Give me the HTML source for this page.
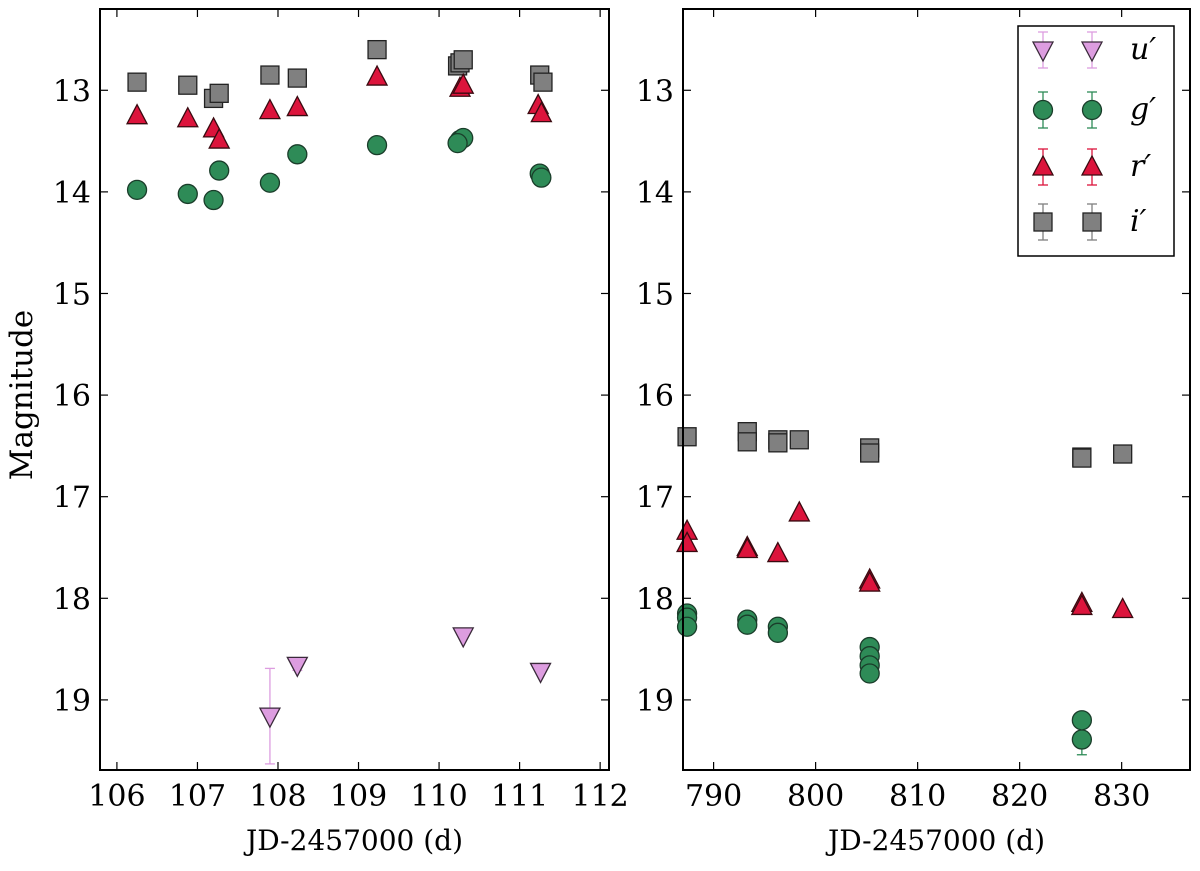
<!DOCTYPE html>
<html><head><meta charset="utf-8"><style>
html,body{margin:0;padding:0;background:#fff}
svg text{font-family:"DejaVu Serif","Liberation Serif",serif;fill:#000}
</style></head><body>
<svg id="chart" width="1200" height="866" viewBox="0 0 1200 866" xmlns="http://www.w3.org/2000/svg"></svg>
<script>
// ---- data ----
const leftXTicks=[106,107,108,109,110,111,112];
const rightXTicks=[790,800,810,820,830];
const yTicks=[13,14,15,16,17,18,19];
// left panel
const L_u_x=[107.9,108.24,110.3,111.26];
const L_u_y=[19.16,18.66,18.37,18.72];
const L_u_e=[0.47,0.05,0.03,0.03];
const L_g_x=[106.25,106.88,107.2,107.27,107.9,108.24,109.23,110.26,110.3,110.23,111.25,111.27];
const L_g_y=[13.98,14.02,14.08,13.79,13.91,13.63,13.54,13.49,13.47,13.52,13.82,13.86];
const L_r_x=[106.25,106.88,107.2,107.27,107.9,108.24,109.23,110.26,110.3,111.23,111.27];
const L_r_y=[13.25,13.28,13.38,13.49,13.2,13.17,12.87,12.98,12.95,13.15,13.23];
const L_i_x=[106.25,106.88,107.2,107.27,107.9,108.24,109.23,110.23,110.26,110.3,111.25,111.29];
const L_i_y=[12.92,12.95,13.08,13.03,12.85,12.88,12.6,12.76,12.73,12.7,12.85,12.92];
// right panel
const R_g_x=[787.4,787.4,787.4,793.3,793.3,796.3,796.3,805.3,805.3,805.3,805.3,826.1,826.1];
const R_g_y=[18.15,18.19,18.28,18.21,18.26,18.28,18.34,18.48,18.57,18.66,18.74,19.2,19.39];
const R_g_e=[0.03,0.03,0.03,0.03,0.03,0.03,0.03,0.03,0.03,0.03,0.03,0.03,0.15];
const R_r_x=[787.4,787.4,793.3,793.3,796.3,798.4,805.3,805.3,826.1,826.1,830.1];
const R_r_y=[17.34,17.46,17.5,17.52,17.56,17.16,17.82,17.85,18.05,18.08,18.11];
const R_i_x=[787.4,793.3,793.3,796.3,796.3,798.4,805.3,805.3,826.1,826.1,830.1];
const R_i_y=[16.41,16.36,16.46,16.44,16.47,16.44,16.52,16.57,16.61,16.62,16.58];

const COL={u:'#dd9de0',g:'#2e8b57',r:'#dc143c',i:'#808080'};
const NS='http://www.w3.org/2000/svg';
const svg=document.getElementById('chart');
function mk(tag,attrs,parent){const e=document.createElementNS(NS,tag);for(const k in attrs)e.setAttribute(k,attrs[k]);(parent||svg).appendChild(e);return e;}

const Y0=12.2,Y1=19.69,PT=9,PB=770;
function yS(v){return PT+(v-Y0)/(Y1-Y0)*(PB-PT);}
const panels=[
 {name:'left',x0:100,x1:609,d0:105.79,d1:112.11,ticks:leftXTicks},
 {name:'right',x0:683,x1:1190,d0:787.0,d1:836.7,ticks:rightXTicks}
];
panels.forEach(p=>{p.xS=v=>p.x0+(v-p.d0)/(p.d1-p.d0)*(p.x1-p.x0);});

function marker(type,cx,cy,g){
  let e;
  if(type==='i'){e=mk('rect',{x:cx-9,y:cy-9,width:18,height:18,fill:COL.i,stroke:'#222','stroke-width':1.3},g);}
  else if(type==='g'){e=mk('circle',{cx:cx,cy:cy,r:9.5,fill:COL.g,stroke:'#1a3d2a','stroke-width':1.3},g);}
  else if(type==='r'){e=mk('polygon',{points:`${cx},${cy-11} ${cx-10},${cy+8} ${cx+10},${cy+8}`,fill:COL.r,stroke:'#3a0a10','stroke-width':1.3},g);}
  else {e=mk('polygon',{points:`${cx},${cy+11} ${cx-10},${cy-8} ${cx+10},${cy-8}`,fill:COL.u,stroke:'#3a2a3a','stroke-width':1.3},g);}
  return e;
}
function errbar(type,cx,y1,y2,g){
  mk('line',{x1:cx,y1:y1,x2:cx,y2:y2,stroke:COL[type],'stroke-width':1.3},g);
  mk('line',{x1:cx-5,y1:y1,x2:cx+5,y2:y1,stroke:COL[type],'stroke-width':1.3},g);
  mk('line',{x1:cx-5,y1:y2,x2:cx+5,y2:y2,stroke:COL[type],'stroke-width':1.3},g);
}
function series(p,type,xs,ys,es){
  const g=mk('g',{});
  
  
  xs.forEach((x,k)=>{
    const cx=p.xS(x),cy=yS(ys[k]);
    if(es&&es[k]>0.04)errbar(type,cx,yS(ys[k]-es[k]),yS(ys[k]+es[k]),g);
    const m=marker(type,cx,cy,g);
    
    
  });
}

panels.forEach(p=>{
  const ax=mk('g',{});
  
  
  p.ticks.forEach(t=>{
    const x=p.xS(t);
    mk('line',{x1:x,y1:PB,x2:x,y2:PB-8,stroke:'#000','stroke-width':1.2},ax);
    mk('line',{x1:x,y1:PT,x2:x,y2:PT+8,stroke:'#000','stroke-width':1.2},ax);
    const tx=mk('text',{x:x,y:806,'text-anchor':'middle','font-size':30},ax);
    tx.textContent=t;
    
    
  });
  yTicks.forEach(t=>{
    const y=yS(t);
    mk('line',{x1:p.x0,y1:y,x2:p.x0+8,y2:y,stroke:'#000','stroke-width':1.2},ax);
    mk('line',{x1:p.x1,y1:y,x2:p.x1-8,y2:y,stroke:'#000','stroke-width':1.2},ax);
    const tx=mk('text',{x:p.x0-9,y:y+11,'text-anchor':'end','font-size':30},ax);
    tx.textContent=t;
    
    
  });
  const xl=mk('text',{x:(p.x0+p.x1)/2,y:850,'text-anchor':'middle','font-size':28},ax);
  xl.textContent='JD-2457000 (d)';
  
  
});

series(panels[0],'i',L_i_x,L_i_y,null);
series(panels[0],'r',L_r_x,L_r_y,null);
series(panels[0],'g',L_g_x,L_g_y,null);
series(panels[0],'u',L_u_x,L_u_y,L_u_e);
series(panels[1],'i',R_i_x,R_i_y,null);
series(panels[1],'r',R_r_x,R_r_y,null);
series(panels[1],'g',R_g_x,R_g_y,R_g_e);

panels.forEach(p=>{
  const f=mk('rect',{x:p.x0,y:PT,width:p.x1-p.x0,height:PB-PT,fill:'none',stroke:'#000','stroke-width':2});
  
  
});

const yl=mk('text',{x:0,y:0,'text-anchor':'middle','font-size':31,transform:'translate(32,395) rotate(-90)'});
yl.textContent='Magnitude';



// legend
const lg=mk('g',{});


mk('rect',{x:1018,y:26,width:156,height:230,fill:'#fff',stroke:'#000','stroke-width':1.5},lg);
const legTypes=['u','g','r','i'];
const legLabels=['u','g','r','i'];
const legY=[50,110,167,222];
legTypes.forEach((t,k)=>{
  const e=mk('g',{},lg);
  
  
  [1043,1092].forEach(x=>{
    errbar(t,x,legY[k]-18,legY[k]+18,e);
    marker(t,x,legY[k],e);
  });
  const tx=mk('text',{x:1130,y:legY[k]+9,'font-size':30,'font-style':'italic'},e);
  tx.textContent=legLabels[k]+'′';
});
</script>
</body></html>
